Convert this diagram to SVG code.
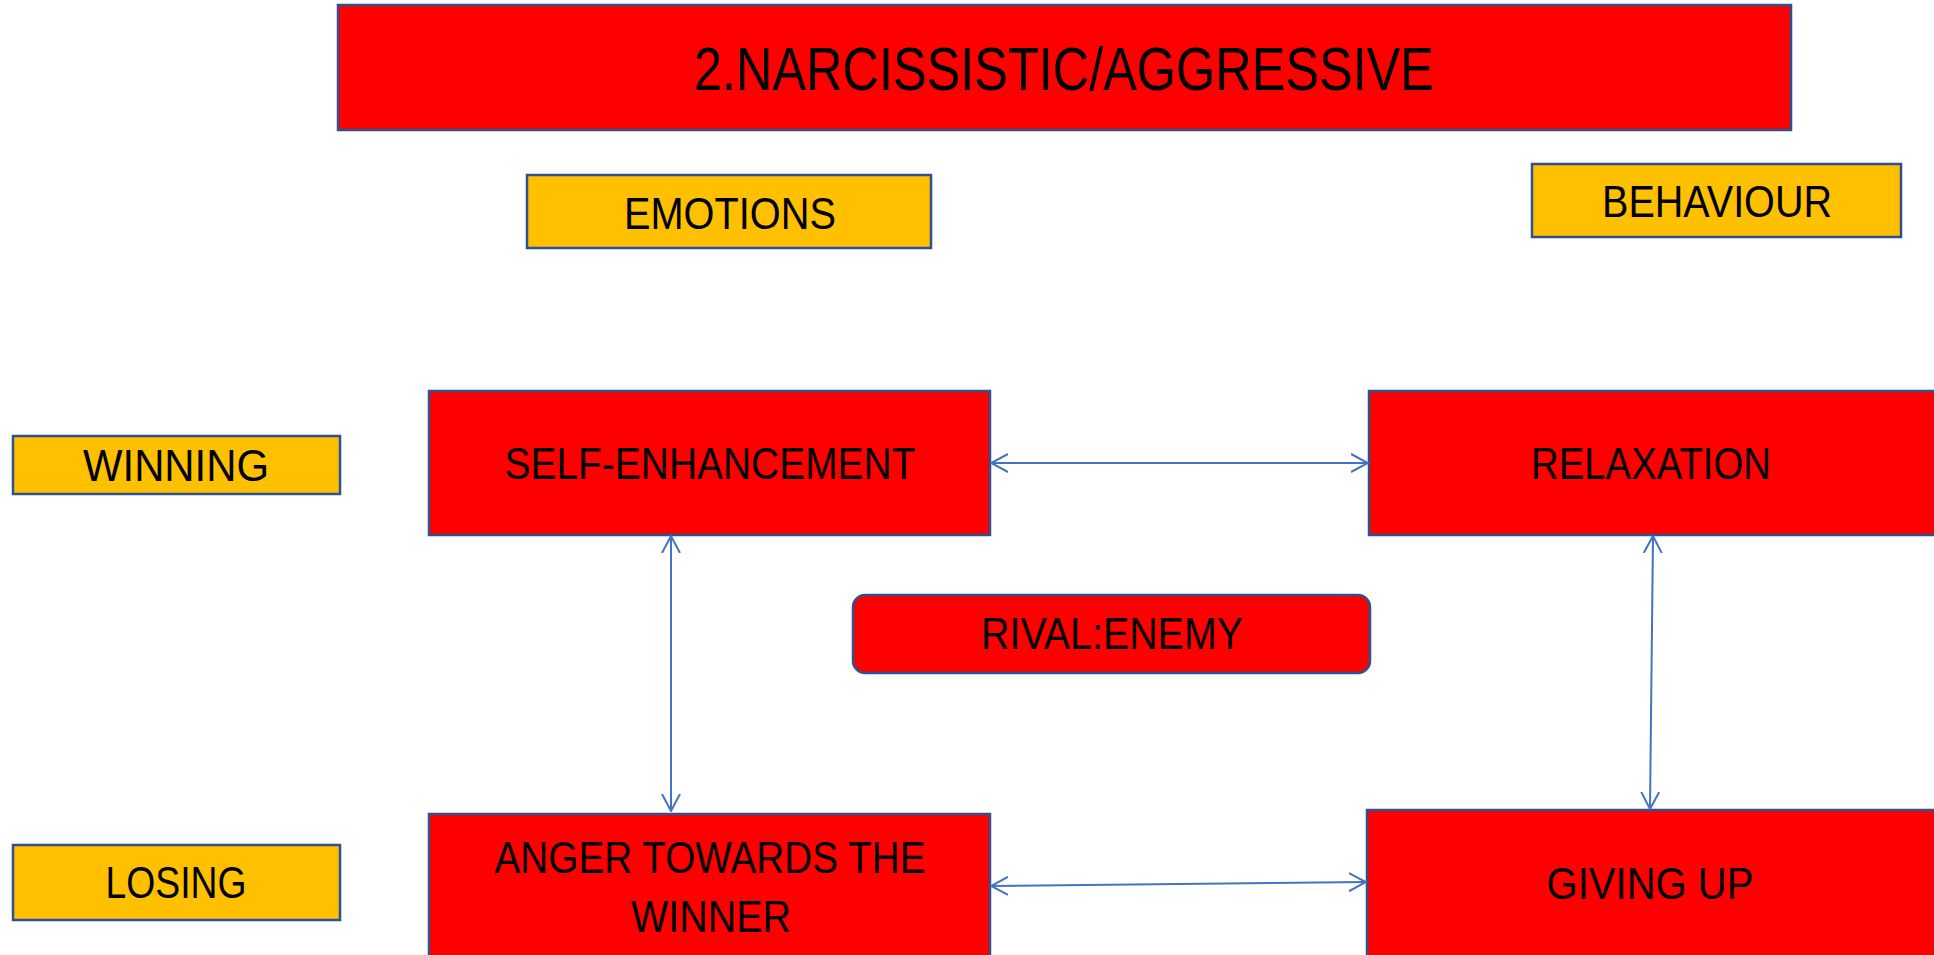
<svg xmlns="http://www.w3.org/2000/svg" width="1934" height="955" viewBox="0 0 1934 955">
<style>
.red{fill:#FF0000;stroke:#2F528F;stroke-width:2.5}
.org{fill:#FFC000;stroke:#2F528F;stroke-width:2.5}
.t{font-family:"Liberation Sans","Open Sans",Arial,sans-serif;fill:#000;text-anchor:middle}
.c{stroke:#4472C4;stroke-width:2;fill:none}
</style>
<defs>
<marker id="ah" viewBox="0 0 18 20" refX="17" refY="10" markerWidth="18" markerHeight="20" markerUnits="userSpaceOnUse" orient="auto-start-reverse">
<path d="M0,1 L17,10 L0,19" fill="none" stroke="#4472C4" stroke-width="2"/>
</marker>
</defs>
<rect width="1934" height="955" fill="#fff"/>
<g id="title"><rect class="red" x="338" y="5" width="1453" height="125"/><text class="t" x="1064" y="90" font-size="61" textLength="740" lengthAdjust="spacingAndGlyphs">2.NARCISSISTIC/AGGRESSIVE</text></g>
<g id="emotions"><rect class="org" x="527" y="175" width="404" height="73"/><text class="t" x="730" y="229" font-size="44" textLength="212" lengthAdjust="spacingAndGlyphs">EMOTIONS</text></g>
<g id="behaviour"><rect class="org" x="1532" y="164" width="369" height="73"/><text class="t" x="1717" y="217" font-size="44" textLength="230" lengthAdjust="spacingAndGlyphs">BEHAVIOUR</text></g>
<g id="winning"><rect class="org" x="13" y="436" width="327" height="58"/><text class="t" x="176" y="481" font-size="44" textLength="186" lengthAdjust="spacingAndGlyphs">WINNING</text></g>
<g id="losing"><rect class="org" x="13" y="845" width="327" height="75"/><text class="t" x="176" y="898" font-size="44" textLength="141" lengthAdjust="spacingAndGlyphs">LOSING</text></g>
<g id="self-enhancement"><rect class="red" x="429" y="391" width="561" height="144"/><text class="t" x="710" y="479" font-size="45" textLength="411" lengthAdjust="spacingAndGlyphs">SELF-ENHANCEMENT</text></g>
<g id="relaxation"><rect class="red" x="1369" y="391" width="566" height="144"/><text class="t" x="1651" y="479" font-size="45" textLength="240" lengthAdjust="spacingAndGlyphs">RELAXATION</text></g>
<g id="rival"><rect class="red" x="853" y="595" width="517" height="78" rx="12" ry="12"/><text class="t" x="1112" y="649" font-size="45" textLength="262" lengthAdjust="spacingAndGlyphs">RIVAL:ENEMY</text></g>
<g id="anger"><rect class="red" x="429" y="814" width="561" height="150"/><text class="t" x="710" y="873" font-size="45" textLength="431" lengthAdjust="spacingAndGlyphs">ANGER TOWARDS THE</text><text class="t" x="711" y="932" font-size="45" textLength="160" lengthAdjust="spacingAndGlyphs">WINNER</text></g>
<g id="giving-up"><rect class="red" x="1367" y="810" width="568" height="154"/><text class="t" x="1650" y="899" font-size="45" textLength="207" lengthAdjust="spacingAndGlyphs">GIVING UP</text></g>
<g id="connectors">
<line class="c" x1="991" y1="463" x2="1368" y2="463" marker-start="url(#ah)" marker-end="url(#ah)"/>
<line class="c" x1="671" y1="536" x2="671" y2="811" marker-start="url(#ah)" marker-end="url(#ah)"/>
<line class="c" x1="1653" y1="536" x2="1650" y2="809" marker-start="url(#ah)" marker-end="url(#ah)"/>
<line class="c" x1="991" y1="886" x2="1366" y2="882" marker-start="url(#ah)" marker-end="url(#ah)"/>
</g>
</svg>
